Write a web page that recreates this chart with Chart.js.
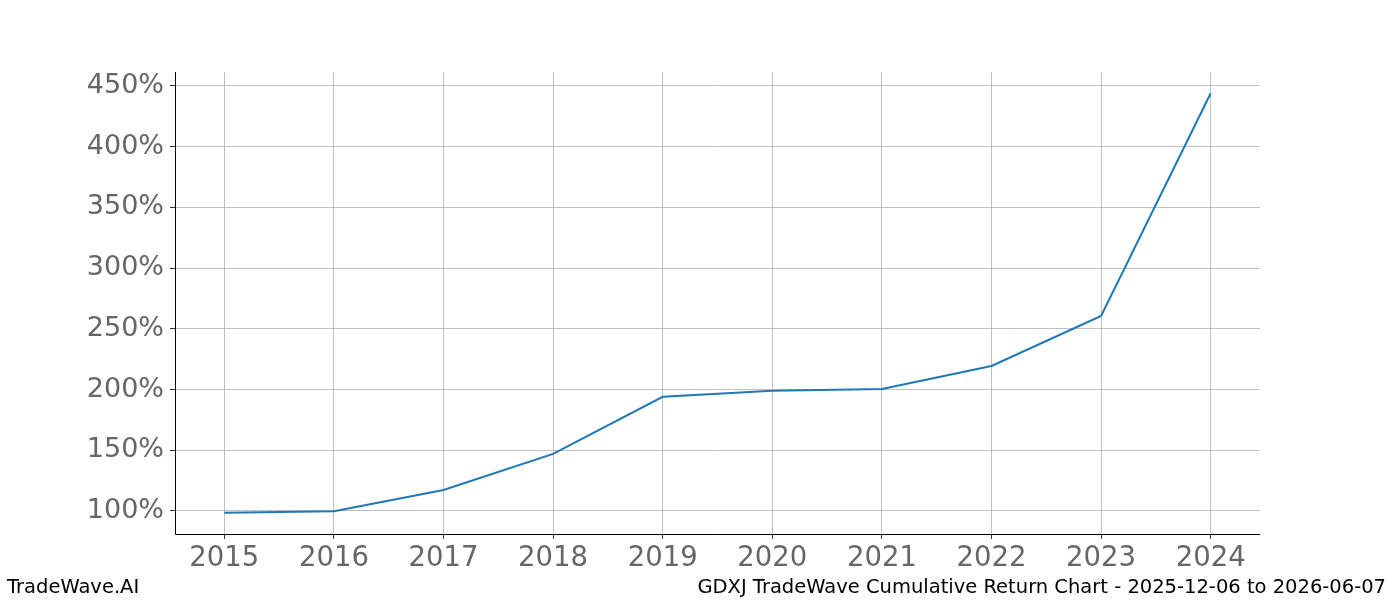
<!DOCTYPE html>
<html><head><meta charset="utf-8">
<script src="https://cdn.jsdelivr.net/npm/chart.js@4/dist/chart.umd.min.js"></script>
<style>html,body{margin:0;padding:0;background:#fff}#w{width:1400px;height:600px}</style>
</head><body><div id="w"><canvas id="c"></canvas></div>
<script>
const years = [2015,2016,2017,2018,2019,2020,2021,2022,2023,2024];
const cumulativeReturn = [98.4,99.7,117.3,147.0,194.0,199.0,200.5,219.4,260.6,444.0];
const yTicks = [100,150,200,250,300,350,400,450];
const footerLeft = 'TradeWave.AI';
const footerRight = 'GDXJ TradeWave Cumulative Return Chart - 2025-12-06 to 2026-06-07';

const footer = {id:'footer',afterDraw(ch){const c=ch.ctx;c.save();c.font='19.5px "DejaVu Sans"';c.fillStyle='#000';c.textBaseline='middle';
c.textAlign='left';c.fillText(footerLeft,7,588);c.textAlign='right';c.fillText(footerRight,1386,588);c.restore();}};
const spines = {id:'spines',afterDraw(ch){const a=ch.chartArea,c=ch.ctx;c.save();c.strokeStyle='#000';c.lineWidth=1;c.beginPath();
c.moveTo(a.left+0.5,a.top);c.lineTo(a.left+0.5,a.bottom+0.5);c.lineTo(a.right,a.bottom+0.5);c.stroke();c.restore();}};

new Chart(document.getElementById('c'),{
 type:'line',
 data:{datasets:[{data:years.map((y,i)=>({x:y,y:cumulativeReturn[i]})),borderColor:'#1f77b4',borderWidth:2,pointRadius:0,tension:0,fill:false}]},
 options:{responsive:true,maintainAspectRatio:false,animation:false,
  layout:{padding:{top:72,right:140,left:0,bottom:0}},
  plugins:{legend:{display:false},tooltip:{enabled:false}},
  scales:{
   x:{type:'linear',min:2014.55,max:2024.45,afterFit(s){s.height=66;},
     afterBuildTicks(s){s.ticks=years.map(v=>({value:v}));},
     ticks:{color:'#666',font:{size:27.5,family:'DejaVu Sans'},padding:3,callback:v=>String(v),maxRotation:0,autoSkip:false},
     grid:{color:'#b0b0b0',lineWidth:0.8,drawTicks:true,tickLength:5,tickColor:'#000'},border:{display:false}},
   y:{min:81,max:461.5,afterFit(s){s.width=175;},
     afterBuildTicks(s){s.ticks=yTicks.map(v=>({value:v}));},
     ticks:{color:'#666',font:{size:27,family:'DejaVu Sans'},padding:6,callback:v=>v+'%'},
     grid:{color:'#b0b0b0',lineWidth:0.8,drawTicks:true,tickLength:5,tickColor:'#000'},border:{display:false}}
  }},
 plugins:[footer,spines]
});
</script></body></html>
